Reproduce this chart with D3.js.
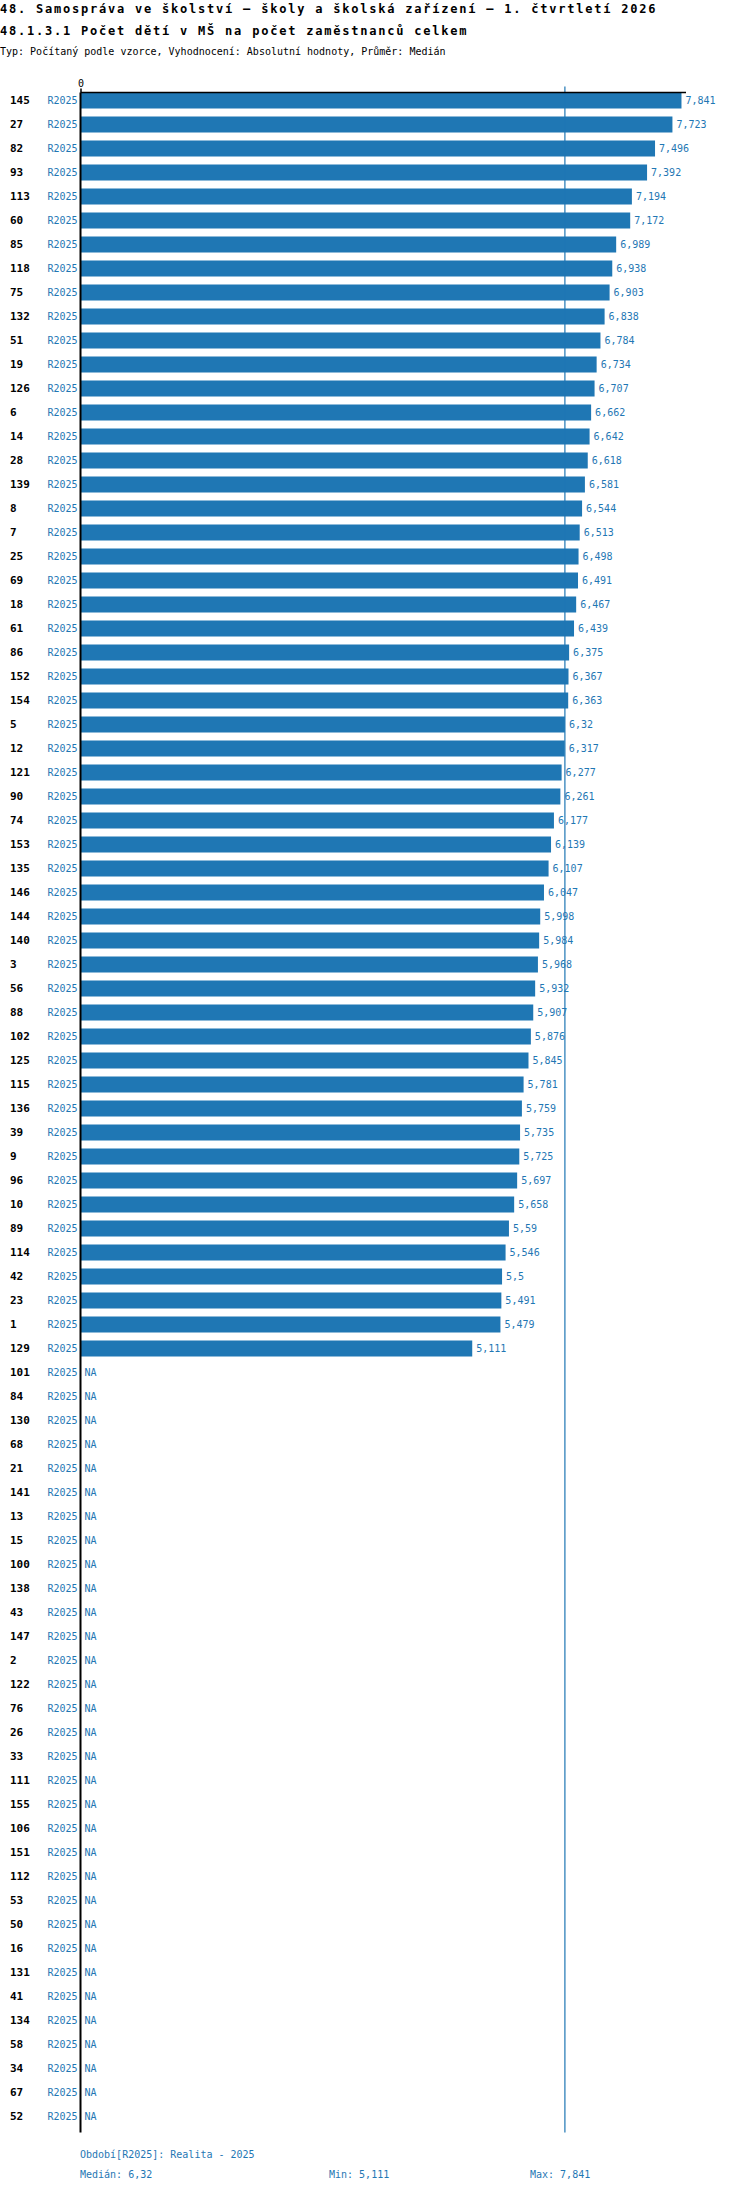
<!DOCTYPE html>
<html><head><meta charset="utf-8">
<script src="https://cdn.jsdelivr.net/npm/d3@7"></script>
<style>
body{margin:0;background:#fff;}
svg{display:block;font-family:"DejaVu Sans Mono",monospace;}
</style></head>
<body>
<svg id="chart" width="750" height="2192"></svg>
<script>
const titleLines = ["48. Samospráva ve školství – školy a školská zařízení – 1. čtvrtletí 2026",
  "48.1.3.1 Počet dětí v MŠ na počet zaměstnanců celkem"];
const subtitle = "Typ: Počítaný podle vzorce, Vyhodnocení: Absolutní hodnoty, Průměr: Medián";
const period = "R2025";
const periodNote = "Období[R2025]: Realita - 2025";
const ids = [145,27,82,93,113,60,85,118,75,132,51,19,126,6,14,28,139,8,7,25,69,18,61,86,152,154,5,12,121,90,74,153,135,146,144,140,3,56,88,102,125,115,136,39,9,96,10,89,114,42,23,1,129,
  101,84,130,68,21,141,13,15,100,138,43,147,2,122,76,26,33,111,155,106,151,112,53,50,16,131,41,134,58,34,67,52];
const values = [7.841,7.723,7.496,7.392,7.194,7.172,6.989,6.938,6.903,6.838,6.784,6.734,6.707,6.662,6.642,6.618,6.581,6.544,6.513,6.498,6.491,6.467,6.439,6.375,6.367,6.363,6.32,6.317,6.277,6.261,6.177,6.139,6.107,6.047,5.998,5.984,5.968,5.932,5.907,5.876,5.845,5.781,5.759,5.735,5.725,5.697,5.658,5.59,5.546,5.5,5.491,5.479,5.111,
  null,null,null,null,null,null,null,null,null,null,null,null,null,null,null,null,null,null,null,null,null,null,null,null,null,null,null,null,null,null,null,null];
const xTicks = [0];
const xMax = 7.9;

(function(){
const data = ids.map((id,i)=>({id:String(id), v:values[i]}));
const blue = "#1f77b4";
const fmt = v => String(v).replace(".", ",");

const svg = d3.select("#chart");
const leftX = 80.5, rightX = 686, topY = 92.5;
const x = d3.scaleLinear().domain([0, xMax]).range([leftX, rightX]);
const y = d3.scaleBand().domain(data.map(d=>d.id))
  .range([topY-4, topY-4 + data.length*24]).paddingInner(1/3).paddingOuter(1/6);
const bottomY = y.range()[1] + 4;

// titles
svg.append("text").attr("x",0).attr("y",12.5).attr("font-size",12).attr("font-weight","bold")
  .attr("letter-spacing",1.78).attr("fill","#000").text(titleLines[0]);
svg.append("text").attr("x",0).attr("y",35).attr("font-size",12).attr("font-weight","bold")
  .attr("letter-spacing",1.78).attr("fill","#000").text(titleLines[1]);
svg.append("text").attr("x",0).attr("y",55).attr("font-size",10).attr("fill","#000").text(subtitle);

// bars
const valid = data.filter(d=>d.v!=null);
svg.append("g").selectAll("rect").data(valid).join("rect")
  .attr("x", x(0)).attr("y", d=>y(d.id))
  .attr("width", d=>x(d.v)-x(0)).attr("height", y.bandwidth())
  .attr("fill", blue);

// median line
const med = d3.median(valid, d=>d.v);
const mn = d3.min(valid, d=>d.v), mx = d3.max(valid, d=>d.v);
svg.append("line").attr("x1", x(med)).attr("x2", x(med))
  .attr("y1", topY-6).attr("y2", bottomY).attr("stroke", blue).attr("stroke-width",1.2);

// top axis
const axis = svg.append("g").attr("transform", `translate(0,${topY})`)
  .call(d3.axisTop(x).tickValues(xTicks).tickSize(4).tickPadding(2).tickSizeOuter(0).tickFormat(d3.format("d")));
axis.select(".domain").attr("stroke","#000").attr("stroke-width",1.5).attr("d", `M${leftX},0H${rightX}`);
axis.selectAll(".tick line").attr("stroke","#000").attr("stroke-width",1.5);
axis.selectAll(".tick text").attr("font-family","DejaVu Sans Mono, monospace").attr("font-size",10).attr("fill","#000");

// left axis line
svg.append("line").attr("x1", leftX).attr("x2", leftX).attr("y1", topY).attr("y2", bottomY)
  .attr("stroke","#000").attr("stroke-width",2);

// row labels
const rows = svg.append("g").selectAll("g").data(data).join("g")
  .attr("transform", d=>`translate(0,${y(d.id)+y.bandwidth()/2})`);
rows.append("text").attr("x",10).attr("dy","0.35em").attr("font-size",11).attr("font-weight","bold")
  .attr("fill","#000").text(d=>d.id);
rows.append("text").attr("x",77.5).attr("dy","0.35em").attr("font-size",10).attr("text-anchor","end")
  .attr("fill",blue).text(period);
rows.append("text").attr("x", d=> (d.v==null ? x(0) : x(d.v)) + 4).attr("dy","0.35em")
  .attr("font-size",10).attr("fill",blue).text(d=> d.v==null ? "NA" : fmt(d.v));

// footer
svg.append("text").attr("x",80).attr("y",bottomY+25).attr("font-size",10).attr("fill",blue).text(periodNote);
const fy = bottomY+45;
svg.append("text").attr("x",80).attr("y",fy).attr("font-size",10).attr("fill",blue).text("Medián: "+fmt(med));
svg.append("text").attr("x",329).attr("y",fy).attr("font-size",10).attr("fill",blue).text("Min: "+fmt(mn));
svg.append("text").attr("x",530).attr("y",fy).attr("font-size",10).attr("fill",blue).text("Max: "+fmt(mx));
})();
</script>
</body></html>
